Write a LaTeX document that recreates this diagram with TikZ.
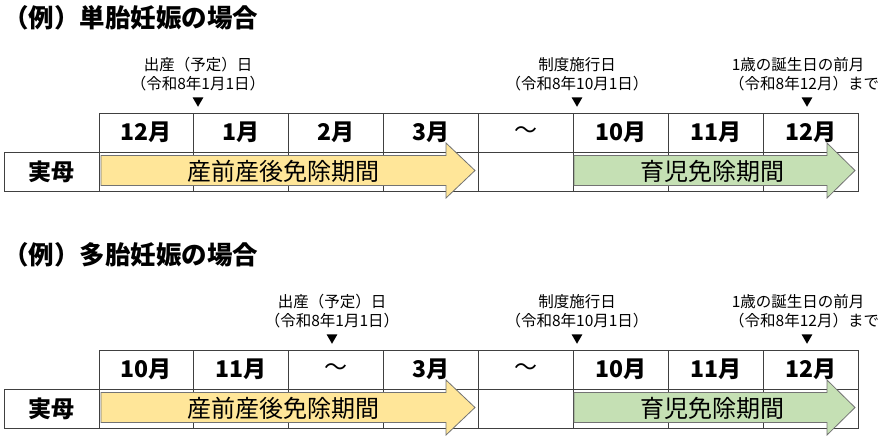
\documentclass[tikz,border=0pt]{standalone}
\usepackage{fontspec}
\setmainfont{Noto Sans CJK JP}
\usetikzlibrary{positioning, shapes.geometric}
\newcommand{\colw}{94.875}
\newcommand{\gap}{{\mdseries ～}}

\begin{document}
\begin{tikzpicture}[
    x=1pt, y=-1pt,
    % GLOBAL CFG
    font=\normalfont,
    line join=miter,
    % Styles
    title/.style={% For headings
        anchor=west,
        inner sep=0pt,
        font=\fontsize{25.5}{30}\selectfont\bfseries,
    },
    cell/.style={% For table cells
        rectangle,
        draw=black!75,
        line width=0.9pt,
        minimum width=\colw pt,
        minimum height=39pt,
        inner sep=0pt,
        font=\fontsize{23}{26}\selectfont\bfseries,
    },
    note/.style={% For date annotations
        inner sep=0pt,
        align=center,
        font=\fontsize{15.5}{19}\selectfont,
    },
    marker/.style={% For the black triangles
        regular polygon,
        regular polygon sides=3,
        shape border rotate=180,
        fill=black,
        minimum size=12.5pt,
        inner sep=0pt,
    },
    prearrow/.style={% For the pre/postnatal period
        draw=black!55,
        line width=0.8pt,
        fill={rgb,255:red,255;green,230;blue,153},
    },
    carearrow/.style={% For the childcare period
        draw=black!55,
        line width=0.8pt,
        fill={rgb,255:red,197;green,224;blue,180},
    },
    bartext/.style={
        inner sep=0pt,
        font=\fontsize{24}{28}\selectfont,
    },
    ]

    \useasboundingbox (0,0) rectangle (885,440);

    % Draw both examples, shifted by 237px
    \foreach \dy/\ttl/\months/\bx in {%
        0/{（例）単胎妊娠の場合}/{12月,1月,2月,3月,\gap,10月,11月,12月}/198,
        237/{（例）多胎妊娠の場合}/{10月,11月,\gap,3月,\gap,10月,11月,12月}/332}{
    \begin{scope}[yshift=-\dy pt]

    % Heading
    \node [title] (title) at (3,18) {\ttl};

    % Month row and mother row
    \foreach \m [count=\i] in \months {
        \node [cell] (month\i) at ({99+\colw*(\i-0.5)},132.5) {\m};
        \node [cell] (row\i) at ({99+\colw*(\i-0.5)},171.5) {};
    }
    \node [cell, minimum width=95pt] (mother) at (51.5,171.5) {実母};

    % Periods
    \draw [prearrow] (101,155.5) -- (446,155.5) -- (446,143) -- (475,170.5)
        -- (446,198) -- (446,185.5) -- (101,185.5) -- cycle;
    \node [bartext] (pre) at (283,171) {産前産後免除期間};
    \draw [carearrow] (574,155.5) -- (827,155.5) -- (827,143) -- (855,170.5)
        -- (827,198) -- (827,185.5) -- (574,185.5) -- cycle;
    \node [bartext] (care) at (712,171) {育児免除期間};

    % Dates
    \node [note] (birth) at (\bx,74) {出産（予定）日\\（令和8年1月1日）};
    \node [marker] (m1) at (\bx,100.5) {};
    \node [note] (start) at (577,74) {制度施行日\\（令和8年10月1日）};
    \node [marker] (m2) at (577,100.5) {};
    \node [note, anchor=west, align=left] (end) at (729,74) {\,1歳の誕生日の前月\\（令和8年12月）まで};
    \node [marker] (m3) at (807,100.5) {};

    \end{scope}
    }

\end{tikzpicture}
\end{document}
